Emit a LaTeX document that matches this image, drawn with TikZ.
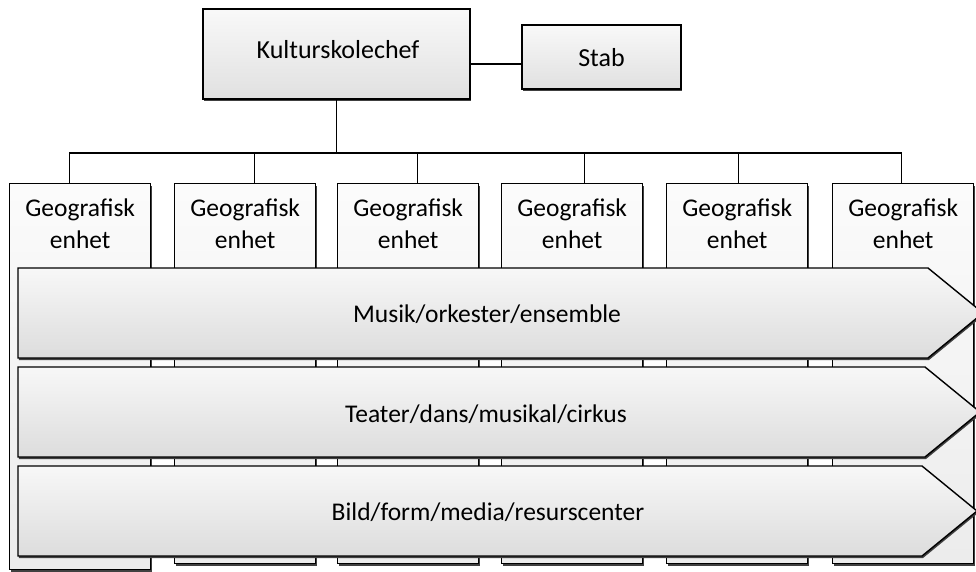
\documentclass[tikz,border=0pt]{standalone}
\usepackage{fontspec}
\setmainfont{Carlito}
\usetikzlibrary{shadows}

\tikzset{
  orgbox/.style={draw, line width=1.4pt, top color=gray!5, bottom color=gray!24, inner sep=0pt,
    drop shadow={shadow xshift=0.8pt, shadow yshift=-1.8pt, fill=black!75, opacity=1}},
  geobox/.style={orgbox, top color=gray!3, bottom color=gray!15, minimum width=141pt, anchor=north west},
  geotext/.style={align=center, font=\fontsize{25.5}{32}\selectfont, inner sep=0pt},
  band/.style={draw, line width=1.4pt, top color=gray!6, bottom color=gray!27,
    drop shadow={shadow xshift=0.8pt, shadow yshift=-2.2pt, fill=black!75, opacity=1}},
  bandtext/.style={font=\fontsize{25.5}{30}\selectfont, inner sep=0pt, anchor=base},
  link/.style={line width=1.4pt, line cap=rect}
}

\begin{document}
\begin{tikzpicture}[x=1pt,y=-1pt]
\clip (0,0) rectangle (976,572);
\fill[white] (0,0) rectangle (976,572);

% top level
\node[orgbox, minimum width=267pt, minimum height=90pt] (chef) at (336.5,54) {};
\node[font=\fontsize{26}{30}\selectfont, inner sep=0pt, anchor=base] (cheftext) at (338,59) {Kulturskolechef};
\node[orgbox, minimum width=159pt, minimum height=64pt] (stab) at (601.5,57) {};
\node[font=\fontsize{26}{30}\selectfont, inner sep=0pt, anchor=base] (stabtext) at (601.5,67) {Stab};
\draw[link] ([yshift=-10pt]chef.east) -- ([yshift=-10pt]chef.east -| stab.west);

% geographic units
\coordinate (bus) at (336.5,153);
\draw[link] (chef.south) -- (bus);
\foreach \i/\x/\h/\dx in {1/9/386pt/-10.5pt, 2/174/380pt/9pt, 3/337/380pt/9pt, 4/501/380pt/12pt, 5/666/380pt/1.5pt, 6/832/380pt/-2pt} {
  \node[geobox, minimum height=\h] (g\i) at (\x,183) {};
  \node[geotext] (t\i) at ([yshift=-41pt]g\i.north) {Geografisk\\enhet};
  \draw[link] ([xshift=\dx]g\i.north) -- ([xshift=\dx]g\i.north |- bus);
}
\draw[link] ([xshift=-10.5pt]g1.north |- bus) -- ([xshift=-2pt]g6.north |- bus);

% subject bands
\draw[band] (18,268) -- (928,268) -- (983,313) -- (928,358) -- (18,358) -- cycle;
\node[bandtext] (musik) at (487,322) {Musik/orkester/ensemble};
\draw[band] (18,367) -- (925,367) -- (980,412) -- (925,457) -- (18,457) -- cycle;
\node[bandtext] (teater) at (486,422) {Teater/dans/musikal/cirkus};
\draw[band] (18,466) -- (922,466) -- (977,511) -- (922,556) -- (18,556) -- cycle;
\node[bandtext] (bild) at (488,520) {Bild/form/media/resurscenter};
\end{tikzpicture}
\end{document}
